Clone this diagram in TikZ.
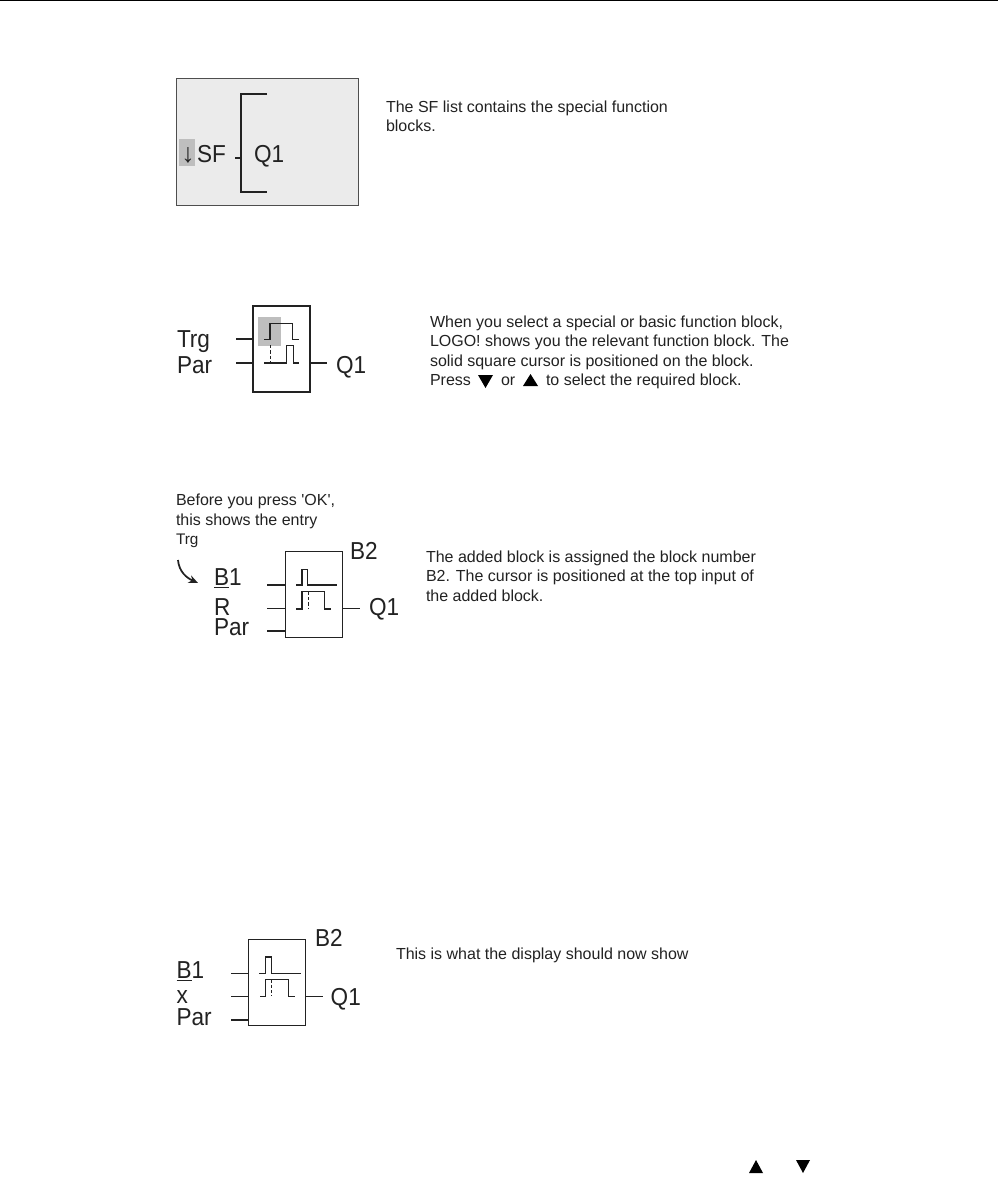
\documentclass[tikz,border=0pt]{standalone}
\usepackage{fontspec}
\setmainfont{Liberation Sans}
\newfontfamily\rawfont{Liberation Sans}
\newfontfamily\narrowfont[FakeStretch=0.92]{Liberation Sans}
\usetikzlibrary{arrows.meta}
\definecolor{ink}{HTML}{222222}
\definecolor{lcd}{HTML}{EBEBEB}
\definecolor{cursor}{HTML}{BEBEBE}
\newcommand{\bodyfs}{\fontsize{12pt}{14.5pt}\selectfont}
\newcommand{\bigfs}{\narrowfont\fontsize{18.4pt}{20pt}\selectfont}
\tikzset{
  x=0.75pt,y=-0.75pt,
  wire/.style={draw=ink,line width=0.9pt},
  sig/.style={draw=ink,line width=0.8pt},
  dashsig/.style={draw=ink,line width=0.65pt,dash pattern=on 2.5pt off 1.5pt},
  body/.style={anchor=base west,inner sep=0pt,outer sep=0pt,text=ink,font=\bodyfs,align=left},
  big/.style={anchor=base west,inner sep=0pt,outer sep=0pt,text=ink,font=\bigfs},
  fblock/.style={draw=ink,line width=0.85pt,fill=white,minimum width=42.75pt,minimum height=64.5pt,inner sep=0pt,outer sep=0pt},
  tri/.style={fill=black,draw=none},
  zoomed/.style={x=0.25pt,y=-0.25pt}
}
\begin{document}
\begin{tikzpicture}
\useasboundingbox (0,0) rectangle (998,1177);
\fill[white] (0,0) rectangle (998,1177);
\coordinate (ruleL) at (0,0.5);
\coordinate (ruleR) at (998,0.5);
\draw[black,line width=0.9pt] (ruleL) -- (ruleR);

% --- SF list display
\node[draw=ink!80,line width=0.75pt,fill=lcd,minimum width=136.5pt,minimum height=94.5pt,inner sep=0pt,outer sep=0pt] (lcdbox) at (267,142) {};
\fill[cursor] (179,139) rectangle (195,166);
\node[anchor=base west,inner sep=0pt,text=ink,font=\fontsize{20pt}{20pt}\selectfont] (arrowtxt) at (181,162) {↓};
\node[big] (sftxt) at (197,162) {SF};
\node[big] (sfq) at (254,162) {Q1};
\coordinate (brT) at (267,94);
\coordinate (brB) at (267,192);
\coordinate (tickL) at (235,158);
\coordinate (tickR) at (241,158);
\draw[wire] (brT) -- (241,94) -- (241,192) -- (brB);
\draw[wire] (tickL) -- (tickR);
\node[body] (t1) at (386,132) {The SF list contains the special function\\blocks.};

% --- Function block 1
\node[fblock] (blockA) at (281.5,349) {};
\node[big] (trgA) at (177,347) {Trg};
\node[big] (parA) at (177,373) {Par};
\node[big] (qA) at (336,373) {Q1};
\coordinate (inA1) at (236,339);
\coordinate (inA2) at (236,363);
\coordinate (outA) at (327,363);
\draw[wire] (inA1) -- (inA1 -| blockA.west);
\draw[wire] (inA2) -- (inA2 -| blockA.west);
\draw[wire] (outA -| blockA.east) -- (outA);
\begin{scope}[shift={(170,295)},zoomed]
  \fill[cursor] (265,65) rectangle (334,152);
  \draw[sig] (282,133) -- (300,133) -- (300,85) -- (367,85) -- (367,133) -- (388,133);
  \draw[sig] (282,204) -- (350,204) -- (350,152) -- (370,152) -- (370,204) -- (388,204);
  \draw[dashsig] (300,150) -- (300,204);
\end{scope}
\node[body] (t2) at (430,366) {When you select a special or basic function block,\\LOGO! shows you the relevant function block. The\\solid square cursor is positioned on the block.};
\node[body] (t2a) at (430,385) {Press};
\fill[tri] (478,375) -- (493,375) -- (485.5,388) -- cycle;
\node[body] (t2b) at (501,385) {or};
\fill[tri] (523,386) -- (538,386) -- (530.5,374) -- cycle;
\node[body] (t2c) at (546,385) {to select the required block.};

% --- Function block 2
\node[body,font={\rawfont\bodyfs}] (t3) at (176,525) {Before you press 'OK',\\this shows the entry};
\node[body,font=\fontsize{11.5pt}{13pt}\selectfont] (t3b) at (176,544) {Trg};
\coordinate (crvA) at (178,560);
\coordinate (crvB) at (198,583);
\draw[draw=ink,line width=1.3pt,-{Stealth[length=7pt,width=6pt]}] (crvA) .. controls (179,572) and (187,578) .. (crvB);
\node[fblock] (blockB) at (314,594.7) {};
\node[big] (bB) at (350,559) {B2};
\node[big] (b1B) at (214,585.5) {\underline{B}1};
\node[big] (rB) at (214,615.5) {R};
\node[big] (parB) at (214,635.5) {Par};
\node[big] (qB) at (369,615.5) {Q1};
\coordinate (inB1) at (267.3,585);
\coordinate (inB2) at (267.3,608.7);
\coordinate (inB3) at (267.3,631);
\coordinate (outB) at (360,608.7);
\draw[wire] (inB1) -- (inB1 -| blockB.west);
\draw[wire] (inB2) -- (inB2 -| blockB.west);
\draw[wire] (inB3) -- (inB3 -| blockB.west);
\draw[wire] (outB -| blockB.east) -- (outB);
\begin{scope}[shift={(170,485)},zoomed]
  \draw[sig] (378,300) -- (396,300) -- (396,254) -- (412,254) -- (412,300) -- (502,300);
  \draw[sig] (378,372) -- (396,372) -- (396,320) -- (464,320) -- (464,372) -- (484,372);
  \draw[dashsig] (414,320) -- (414,372);
\end{scope}
\node[body] (t4) at (426,601) {The added block is assigned the block number\\B2. The cursor is positioned at the top input of\\the added block.};

% --- Function block 3
\node[fblock] (blockC) at (277,982.3) {};
\node[big] (bC) at (315,946.7) {B2};
\node[big] (b1C) at (176.5,978.3) {\underline{B}1};
\node[big] (xC) at (176.5,1003.3) {x};
\node[big] (parC) at (176.5,1025) {Par};
\node[big] (qC) at (330.7,1005) {Q1};
\coordinate (inC1) at (231.3,973.7);
\coordinate (inC2) at (231.3,996.3);
\coordinate (inC3) at (231.3,1020);
\coordinate (outC) at (323.3,996.3);
\draw[wire] (inC1) -- (inC1 -| blockC.west);
\draw[wire] (inC2) -- (inC2 -| blockC.west);
\draw[wire] (inC3) -- (inC3 -| blockC.west);
\draw[wire] (outC -| blockC.east) -- (outC);
\begin{scope}[shift={(160,925)},zoomed]
  \draw[sig] (298,146) -- (316,146) -- (316,96) -- (335,96) -- (335,146) -- (422,146);
  \draw[sig] (300,214) -- (316,214) -- (316,163) -- (385,163) -- (385,214) -- (405,214);
  \draw[dashsig] (335,163) -- (335,214);
\end{scope}
\node[body] (t5) at (396,959) {This is what the display should now show};

% --- footer arrows
\fill[tri] (749,1173) -- (763,1173) -- (756,1160) -- cycle;
\fill[tri] (796,1160) -- (810,1160) -- (803,1173) -- cycle;
\end{tikzpicture}
\end{document}
